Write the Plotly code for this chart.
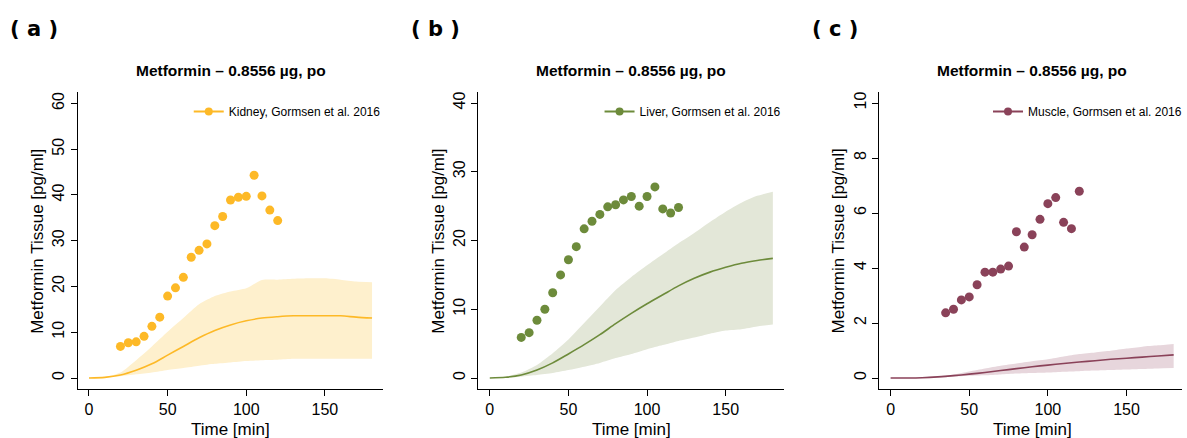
import plotly.graph_objects as go

W, H = 1187, 438

# ---- simulated profiles (10-min grid) ----
sim_time = [0, 10, 20, 30, 40, 50, 60, 70, 80, 90, 100, 110, 120, 130, 140, 150, 160, 170, 180]

kidney_mean = [0, 0.15, 0.66, 1.7, 3.1, 5.0, 6.9, 8.8, 10.4, 11.6, 12.5, 13.1, 13.4, 13.6, 13.6, 13.6, 13.6, 13.3, 13.1]
kidney_hi = [0, 0.2, 1.2, 3.9, 6.9, 10.1, 13.1, 16.1, 17.9, 18.9, 19.6, 21.4, 21.5, 21.7, 21.8, 21.8, 21.5, 21.1, 20.9]
kidney_lo = [0, 0.1, 0.4, 0.8, 1.2, 1.75, 2.2, 2.7, 3.1, 3.4, 3.7, 3.9, 4.0, 4.2, 4.2, 4.2, 4.2, 4.2, 4.2]

liver_mean = [0, 0.1, 0.44, 1.16, 2.2, 3.5, 4.85, 6.3, 7.9, 9.4, 10.8, 12.1, 13.4, 14.5, 15.4, 16.1, 16.7, 17.1, 17.4]
liver_hi = [0, 0.2, 0.8, 1.9, 3.6, 5.6, 8.0, 10.4, 12.8, 14.7, 16.4, 18.0, 19.6, 21.1, 22.7, 24.2, 25.5, 26.5, 27.1]
liver_lo = [0, 0.05, 0.2, 0.44, 0.73, 1.16, 1.65, 2.2, 2.9, 3.5, 4.2, 4.8, 5.4, 5.9, 6.45, 6.9, 7.1, 7.5, 7.8]

muscle_mean = [0, 0.0, 0.01, 0.04, 0.085, 0.14, 0.2, 0.27, 0.34, 0.41, 0.47, 0.53, 0.58, 0.63, 0.68, 0.72, 0.76, 0.80, 0.84]
muscle_hi = [0, 0.005, 0.02, 0.06, 0.13, 0.24, 0.35, 0.45, 0.53, 0.61, 0.68, 0.78, 0.87, 0.93, 0.99, 1.07, 1.14, 1.19, 1.24]
muscle_lo = [0, 0, 0, 0.02, 0.05, 0.08, 0.1, 0.13, 0.16, 0.18, 0.2, 0.23, 0.25, 0.27, 0.29, 0.31, 0.33, 0.35, 0.36]

# ---- observed data (Gormsen et al. 2016) ----
kidney_obs_time = [20, 25, 30, 35, 40, 45, 50, 55, 60, 65, 70, 75, 80, 85, 90, 95, 100, 105, 110, 115, 120]
kidney_obs = [6.9, 7.7, 7.9, 9.1, 11.3, 13.3, 17.9, 19.7, 22.0, 26.4, 27.9, 29.3, 33.3, 35.3, 38.9, 39.5, 39.7, 44.3, 39.8, 36.7, 34.4]

liver_obs_time = [20, 25, 30, 35, 40, 45, 50, 55, 60, 65, 70, 75, 80, 85, 90, 95, 100, 105, 110, 115, 120]
liver_obs = [5.9, 6.6, 8.4, 10.0, 12.4, 15.0, 17.2, 19.1, 21.7, 22.8, 23.8, 24.9, 25.2, 25.9, 26.4, 25.0, 26.4, 27.8, 24.6, 24.0, 24.8]

muscle_obs_time = [35, 40, 45, 50, 55, 60, 65, 70, 75, 80, 85, 90, 95, 100, 105, 110, 115, 120]
muscle_obs = [2.37, 2.50, 2.84, 2.95, 3.39, 3.85, 3.85, 3.96, 4.07, 5.32, 4.76, 5.21, 5.77, 6.34, 6.56, 5.66, 5.43, 6.79]

panel_tags = ["( a )", "( b )", "( c )"]
legend_names = ["Kidney, Gormsen et al. 2016", "Liver, Gormsen et al. 2016", "Muscle, Gormsen et al. 2016"]
y_ticks = [[0, 10, 20, 30, 40, 50, 60], [0, 10, 20, 30, 40], [0, 2, 4, 6, 8, 10]]
x_ticks = [0, 50, 100, 150]
title_text = "Metformin – 0.8556 µg, po"

panels = [
    dict(mean=kidney_mean, lo=kidney_lo, hi=kidney_hi, t_obs=kidney_obs_time, obs=kidney_obs,
         color="#FDB927", band="#FEF0CD", yr=[-2.4, 62.5], left=78, right=385, xr=[-7.2, 187.2]),
    dict(mean=liver_mean, lo=liver_lo, hi=liver_hi, t_obs=liver_obs_time, obs=liver_obs,
         color="#6D8B3B", band="#E3E7D8", yr=[-1.6, 41.6], left=480.5, right=787.5, xr=[-7.2, 187.2]),
    dict(mean=muscle_mean, lo=muscle_lo, hi=muscle_hi, t_obs=muscle_obs_time, obs=muscle_obs,
         color="#8A4259", band="#E7D6DC", yr=[-0.4, 10.4], left=883, right=1187, xr=[-7.2, 185.3]),
]

FONT = "Liberation Sans, Arial, sans-serif"
y_bot, y_top = 1 - 389 / H, 1 - 92 / H

fig = go.Figure()
layout = dict(
    width=W, height=H, margin=dict(l=0, r=0, t=0, b=0),
    paper_bgcolor="white", plot_bgcolor="white",
    font=dict(family=FONT, color="black"),
    annotations=[],
)


def note(text, px, py, size, family=FONT, angle=0, xanchor="center"):
    return dict(text=text, x=px / W, y=1 - py / H, xref="paper", yref="paper",
                xanchor=xanchor, yanchor="middle", textangle=angle, showarrow=False,
                font=dict(size=size, family=family, color="black"))


for i, p in enumerate(panels):
    k = "" if i == 0 else str(i + 1)
    xa, ya = "x" + k, "y" + k
    leg = "legend" + k

    # prediction band
    fig.add_trace(go.Scatter(x=sim_time, y=p["lo"], xaxis=xa, yaxis=ya, mode="lines",
                             line=dict(width=0, shape="spline", smoothing=0.6),
                             showlegend=False, hoverinfo="skip"))
    fig.add_trace(go.Scatter(x=sim_time, y=p["hi"], xaxis=xa, yaxis=ya, mode="lines",
                             line=dict(width=0, shape="spline", smoothing=0.6),
                             fill="tonexty", fillcolor=p["band"],
                             showlegend=False, hoverinfo="skip"))
    # simulated mean
    fig.add_trace(go.Scatter(x=sim_time, y=p["mean"], xaxis=xa, yaxis=ya, mode="lines",
                             line=dict(color=p["color"], width=1.6, shape="spline", smoothing=0.8),
                             showlegend=False))
    # observations
    fig.add_trace(go.Scatter(x=p["t_obs"], y=p["obs"], xaxis=xa, yaxis=ya, mode="markers",
                             marker=dict(color=p["color"], size=9, line=dict(width=0)),
                             name=legend_names[i], showlegend=False))
    # legend key (line + dot)
    fig.add_trace(go.Scatter(x=[None], y=[None], xaxis=xa, yaxis=ya, mode="lines+markers",
                             marker=dict(color=p["color"], size=8, line=dict(width=0)),
                             line=dict(color=p["color"], width=2),
                             name=legend_names[i], legend=leg, showlegend=True))

    dom = [p["left"] / W, min(p["right"] / W, 1.0)]
    axis_common = dict(showline=True, linecolor="black", linewidth=1, ticks="outside",
                       ticklen=6, tickwidth=1, tickcolor="black", showgrid=False,
                       zeroline=False, tickfont=dict(size=16, family=FONT, color="black"))
    layout["xaxis" + k] = dict(domain=dom, range=p["xr"], anchor=ya, tickvals=x_ticks,
                               **axis_common)
    layout["yaxis" + k] = dict(domain=[y_bot, y_top], range=p["yr"], anchor=xa,
                               tickvals=y_ticks[i], tickangle=-90, **axis_common)

    layout[leg] = dict(x=(p["left"] + 307) / W + 0.002, y=1 - 97 / H, xanchor="right",
                       yanchor="top", bgcolor="rgba(0,0,0,0)", borderwidth=0,
                       font=dict(size=12, family=FONT, color="black"), itemwidth=30)

    cx = p["left"] + 307 / 2
    layout["annotations"] += [
        note("<b>" + title_text + "</b>", cx, 70, 15.5),
        note("Time [min]", cx, 429, 17),
        note("Metformin Tissue [pg/ml]", p["left"] - 41, 241, 17, angle=-90),
        note("<b>" + panel_tags[i] + "</b>", p["left"] - 70, 29, 21,
             family="DejaVu Sans, sans-serif", xanchor="left"),
    ]

fig.update_layout(**layout)
fig.write_html("out.html")
